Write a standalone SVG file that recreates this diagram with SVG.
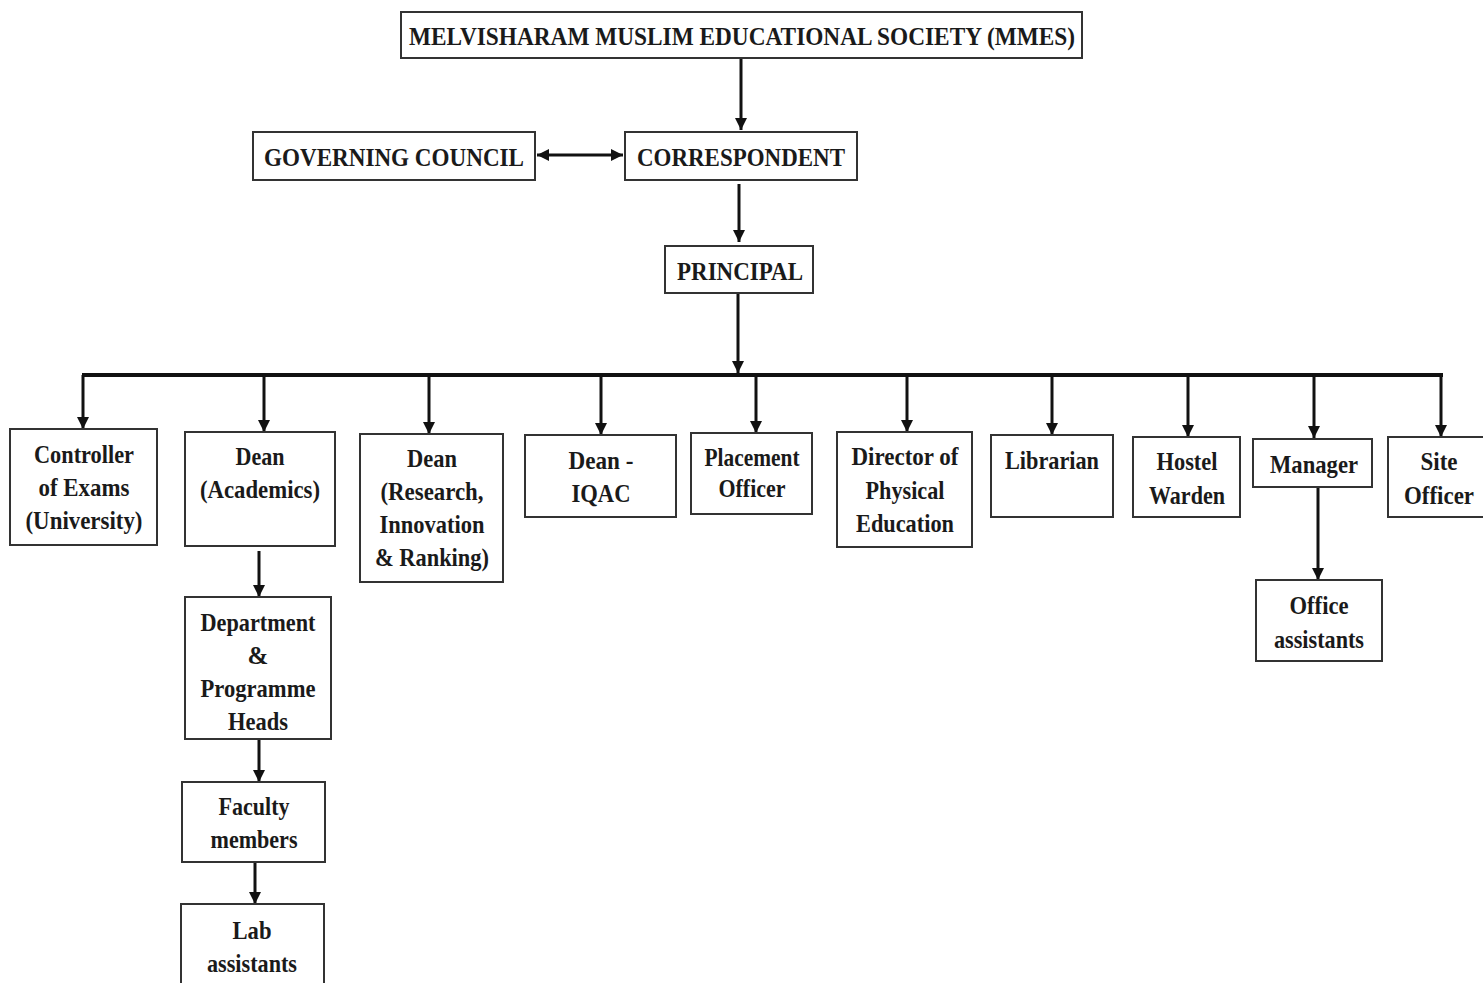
<svg xmlns="http://www.w3.org/2000/svg" width="1483" height="983" viewBox="0 0 1483 983">
<style>
.box{fill:#fff;stroke:#333;stroke-width:2}
.t{font-family:"Liberation Serif","Times New Roman",serif;font-weight:bold;font-size:25px;fill:#1a1a1a;text-anchor:middle}
.c{font-size:26px}
.ln{stroke:#111;stroke-width:3;fill:none}
</style>
<defs>
<marker id="ah" markerUnits="userSpaceOnUse" markerWidth="12" markerHeight="12" refX="10" refY="5" orient="auto-start-reverse" viewBox="0 0 10 10">
<path d="M0,0 L10,5 L0,10 z" fill="#111"/>
</marker>
</defs>
<rect width="1483" height="983" fill="#fff"/>
<g id="connectors">
<line class="ln" x1="741" y1="59" x2="741" y2="130" marker-end="url(#ah)"/>
<line class="ln" x1="537" y1="155" x2="623" y2="155" marker-start="url(#ah)" marker-end="url(#ah)"/>
<line class="ln" x1="739" y1="184" x2="739" y2="242" marker-end="url(#ah)"/>
<line class="ln" x1="738" y1="294" x2="738" y2="373" marker-end="url(#ah)"/>
<line x1="82" y1="375" x2="1443" y2="375" stroke="#111" stroke-width="4"/>
<line class="ln" x1="83" y1="375" x2="83" y2="429" marker-end="url(#ah)"/>
<line class="ln" x1="264" y1="375" x2="264" y2="432" marker-end="url(#ah)"/>
<line class="ln" x1="429" y1="375" x2="429" y2="434" marker-end="url(#ah)"/>
<line class="ln" x1="601" y1="375" x2="601" y2="435" marker-end="url(#ah)"/>
<line class="ln" x1="756" y1="375" x2="756" y2="433" marker-end="url(#ah)"/>
<line class="ln" x1="907" y1="375" x2="907" y2="432" marker-end="url(#ah)"/>
<line class="ln" x1="1052" y1="375" x2="1052" y2="435" marker-end="url(#ah)"/>
<line class="ln" x1="1188" y1="375" x2="1188" y2="437" marker-end="url(#ah)"/>
<line class="ln" x1="1314" y1="375" x2="1314" y2="438" marker-end="url(#ah)"/>
<line class="ln" x1="1441" y1="375" x2="1441" y2="437" marker-end="url(#ah)"/>
<line class="ln" x1="1318" y1="488" x2="1318" y2="580" marker-end="url(#ah)"/>
<line class="ln" x1="259" y1="551" x2="259" y2="597" marker-end="url(#ah)"/>
<line class="ln" x1="259" y1="740" x2="259" y2="782" marker-end="url(#ah)"/>
<line class="ln" x1="255" y1="863" x2="255" y2="904" marker-end="url(#ah)"/>
</g>
<g id="mmes"><rect class="box" x="401" y="12" width="681" height="46"/><text class="t c" x="742" y="45" textLength="666" lengthAdjust="spacingAndGlyphs">MELVISHARAM MUSLIM EDUCATIONAL SOCIETY (MMES)</text></g>
<g id="governing"><rect class="box" x="253" y="132" width="282" height="48"/><text class="t c" x="394" y="166" textLength="260" lengthAdjust="spacingAndGlyphs">GOVERNING COUNCIL</text></g>
<g id="correspondent"><rect class="box" x="625" y="132" width="232" height="48"/><text class="t c" x="741" y="166" textLength="208" lengthAdjust="spacingAndGlyphs">CORRESPONDENT</text></g>
<g id="principal"><rect class="box" x="665" y="246" width="148" height="47"/><text class="t c" x="740" y="280" textLength="126" lengthAdjust="spacingAndGlyphs">PRINCIPAL</text></g>
<g id="controller"><rect class="box" x="10" y="429" width="147" height="116"/>
<text class="t" x="84" y="463" textLength="100" lengthAdjust="spacingAndGlyphs">Controller</text>
<text class="t" x="84" y="496" textLength="91" lengthAdjust="spacingAndGlyphs">of Exams</text>
<text class="t" x="84" y="529" textLength="117" lengthAdjust="spacingAndGlyphs">(University)</text></g>
<g id="dean-academics"><rect class="box" x="185" y="432" width="150" height="114"/>
<text class="t" x="260" y="465" textLength="49" lengthAdjust="spacingAndGlyphs">Dean</text>
<text class="t" x="260" y="498" textLength="120" lengthAdjust="spacingAndGlyphs">(Academics)</text></g>
<g id="dean-research"><rect class="box" x="360" y="434" width="143" height="148"/>
<text class="t" x="432" y="467" textLength="50" lengthAdjust="spacingAndGlyphs">Dean</text>
<text class="t" x="432" y="500" textLength="103" lengthAdjust="spacingAndGlyphs">(Research,</text>
<text class="t" x="432" y="533" textLength="105" lengthAdjust="spacingAndGlyphs">Innovation</text>
<text class="t" x="432" y="566" textLength="114" lengthAdjust="spacingAndGlyphs">&amp; Ranking)</text></g>
<g id="dean-iqac"><rect class="box" x="525" y="435" width="151" height="82"/>
<text class="t" x="601" y="469" textLength="65" lengthAdjust="spacingAndGlyphs">Dean -</text>
<text class="t" x="601" y="502" textLength="59" lengthAdjust="spacingAndGlyphs">IQAC</text></g>
<g id="placement"><rect class="box" x="691" y="433" width="121" height="81"/>
<text class="t" x="752" y="466" textLength="95" lengthAdjust="spacingAndGlyphs">Placement</text>
<text class="t" x="752" y="497" textLength="67" lengthAdjust="spacingAndGlyphs">Officer</text></g>
<g id="director"><rect class="box" x="837" y="432" width="135" height="115"/>
<text class="t" x="905" y="465" textLength="107" lengthAdjust="spacingAndGlyphs">Director of</text>
<text class="t" x="905" y="499" textLength="79" lengthAdjust="spacingAndGlyphs">Physical</text>
<text class="t" x="905" y="532" textLength="98" lengthAdjust="spacingAndGlyphs">Education</text></g>
<g id="librarian"><rect class="box" x="991" y="435" width="122" height="82"/>
<text class="t" x="1052" y="469" textLength="94" lengthAdjust="spacingAndGlyphs">Librarian</text></g>
<g id="hostel"><rect class="box" x="1133" y="437" width="107" height="80"/>
<text class="t" x="1187" y="470" textLength="61" lengthAdjust="spacingAndGlyphs">Hostel</text>
<text class="t" x="1187" y="504" textLength="76" lengthAdjust="spacingAndGlyphs">Warden</text></g>
<g id="manager"><rect class="box" x="1253" y="439" width="119" height="48"/>
<text class="t" x="1314" y="473" textLength="88" lengthAdjust="spacingAndGlyphs">Manager</text></g>
<g id="site"><rect class="box" x="1388" y="437" width="100" height="80"/>
<text class="t" x="1439" y="470" textLength="37" lengthAdjust="spacingAndGlyphs">Site</text>
<text class="t" x="1439" y="504" textLength="70" lengthAdjust="spacingAndGlyphs">Officer</text></g>
<g id="office"><rect class="box" x="1256" y="580" width="126" height="81"/>
<text class="t" x="1319" y="614" textLength="59" lengthAdjust="spacingAndGlyphs">Office</text>
<text class="t" x="1319" y="648" textLength="90" lengthAdjust="spacingAndGlyphs">assistants</text></g>
<g id="dept"><rect class="box" x="185" y="597" width="146" height="142"/>
<text class="t" x="258" y="631" textLength="115" lengthAdjust="spacingAndGlyphs">Department</text>
<text class="t" x="258" y="664">&amp;</text>
<text class="t" x="258" y="697" textLength="115" lengthAdjust="spacingAndGlyphs">Programme</text>
<text class="t" x="258" y="730" textLength="60" lengthAdjust="spacingAndGlyphs">Heads</text></g>
<g id="faculty"><rect class="box" x="182" y="782" width="143" height="80"/>
<text class="t" x="254" y="815" textLength="71" lengthAdjust="spacingAndGlyphs">Faculty</text>
<text class="t" x="254" y="848" textLength="87" lengthAdjust="spacingAndGlyphs">members</text></g>
<g id="lab"><rect class="box" x="181" y="904" width="143" height="90"/>
<text class="t" x="252" y="939" textLength="39" lengthAdjust="spacingAndGlyphs">Lab</text>
<text class="t" x="252" y="972" textLength="90" lengthAdjust="spacingAndGlyphs">assistants</text></g>
</svg>
